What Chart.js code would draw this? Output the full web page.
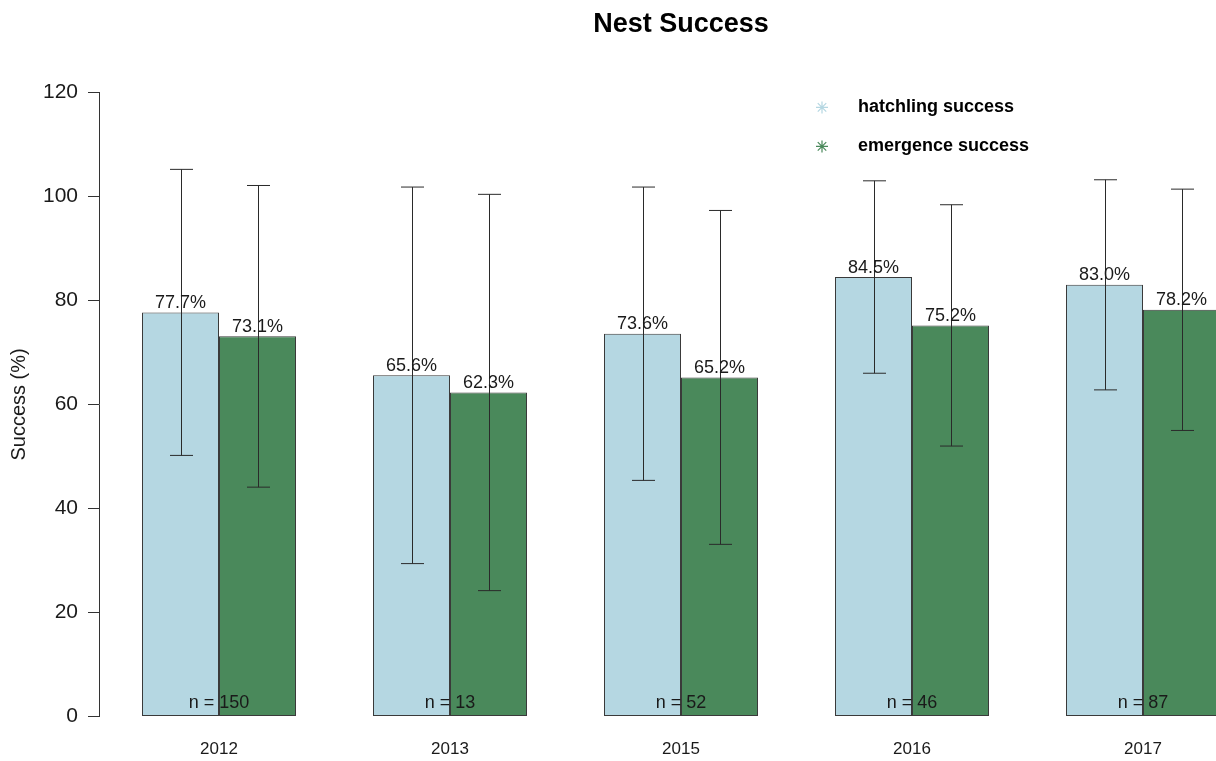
<!DOCTYPE html>
<html lang="en">
<head>
    <meta charset="UTF-8">
    <title>Nest Success</title>
    <script src="https://cdn.jsdelivr.net/npm/chart.js"></script>
    <style>
        body {
            margin: 0;
            overflow: hidden;
            background: #fff;
        }
        .wrap {
            width: 1300px;
            height: 761px;
            position: relative;
        }
    </style>
</head>
<body>
    <div class="wrap">
        <canvas id="nestChart"></canvas>
    </div>

    <script>
        const years = ['2012', '2013', '2015', '2016', '2017'];
        const hatchMean = [77.7, 65.6, 73.6, 84.5, 83.0];
        const hatchSd = [27.5, 36.2, 28.2, 18.5, 20.2];
        const emergeMean = [73.1, 62.3, 65.2, 75.2, 78.2];
        const emergeSd = [29.0, 38.1, 32.1, 23.2, 23.2];
        const nestCounts = [150, 13, 52, 46, 87];

        const lightBlue = '#b5d7e2';
        const green = '#4a895b';
        const ink = '#1a1a1a';

        Chart.defaults.font.family = "'Liberation Sans', Arial, Helvetica, sans-serif";
        Chart.defaults.color = ink;

        // mean +/- sd whiskers on every bar
        const errorBars = {
            id: 'errorBars',
            afterDatasetsDraw(chart) {
                const ctx = chart.ctx;
                const y = chart.scales.y;
                const sds = [hatchSd, emergeSd];
                ctx.save();
                ctx.strokeStyle = '#2a2a2a';
                ctx.lineWidth = 1;
                chart.data.datasets.forEach((ds, di) => {
                    chart.getDatasetMeta(di).data.forEach((bar, i) => {
                        const x = Math.round(bar.x) + 0.5;
                        const top = y.getPixelForValue(ds.data[i] + sds[di][i]);
                        const bot = y.getPixelForValue(ds.data[i] - sds[di][i]);
                        ctx.beginPath();
                        ctx.moveTo(x, top);
                        ctx.lineTo(x, bot);
                        ctx.moveTo(x - 11.5, top);
                        ctx.lineTo(x + 11.5, top);
                        ctx.moveTo(x - 11.5, bot);
                        ctx.lineTo(x + 11.5, bot);
                        ctx.stroke();
                    });
                });
                ctx.restore();
            }
        };

        // percentage above bars, sample size along the base
        const barLabels = {
            id: 'barLabels',
            afterDraw(chart) {
                const ctx = chart.ctx;
                const xs = chart.scales.x;
                const ys = chart.scales.y;
                ctx.save();
                ctx.fillStyle = ink;
                ctx.font = "18px 'Liberation Sans', Arial, sans-serif";
                ctx.textAlign = 'center';
                ctx.textBaseline = 'alphabetic';
                chart.data.datasets.forEach((ds, di) => {
                    chart.getDatasetMeta(di).data.forEach((bar, i) => {
                        ctx.fillText(ds.data[i].toFixed(1) + '%', bar.x, bar.y - 4.5);
                    });
                });
                nestCounts.forEach((n, i) => {
                    ctx.fillText('n = ' + n, xs.getPixelForValue(i), ys.getPixelForValue(0) - 8.5);
                });
                ctx.restore();
            }
        };

        // legend drawn inside the plot, asterisk markers like pch 8
        const starLegend = {
            id: 'starLegend',
            afterDraw(chart) {
                const ctx = chart.ctx;
                const area = chart.chartArea;
                ctx.save();
                ctx.font = "bold 18px 'Liberation Sans', Arial, sans-serif";
                ctx.textAlign = 'left';
                ctx.textBaseline = 'middle';
                chart.data.datasets.forEach((ds, di) => {
                    const ly = area.top + 15 + di * 39;
                    const lx = area.left + 718.5;
                    ctx.strokeStyle = ds.backgroundColor;
                    ctx.lineWidth = 1.2;
                    Chart.helpers.drawPoint(ctx, { pointStyle: 'star', radius: 6, rotation: 0, borderWidth: 1.2 }, lx, ly);
                    ctx.fillStyle = '#000';
                    ctx.fillText(ds.label, lx + 36, ly);
                });
                ctx.restore();
            }
        };

        // R puts the y axis a little left of the first bar group
        const shiftAxis = {
            id: 'shiftAxis',
            afterLayout(chart) {
                const y = chart.scales.y;
                y.left -= 4.5;
                y.right -= 4.5;
            }
        };

        new Chart(document.getElementById('nestChart'), {
            type: 'bar',
            data: {
                labels: years,
                datasets: [
                    {
                        label: 'hatchling success',
                        data: hatchMean,
                        backgroundColor: lightBlue,
                        borderColor: '#3a3a3a',
                        borderWidth: 1,
                        borderSkipped: false
                    },
                    {
                        label: 'emergence success',
                        data: emergeMean,
                        backgroundColor: green,
                        borderColor: '#3a3a3a',
                        borderWidth: 1,
                        borderSkipped: false
                    }
                ]
            },
            options: {
                responsive: true,
                maintainAspectRatio: false,
                animation: false,
                datasets: {
                    bar: { categoryPercentage: 2 / 3, barPercentage: 1 }
                },
                layout: { padding: { left: 0, right: 41.5, top: 0, bottom: 0 } },
                plugins: {
                    legend: { display: false },
                    tooltip: { enabled: false },
                    title: {
                        display: true,
                        text: 'Nest Success',
                        fullSize: false,
                        color: '#000',
                        font: { size: 27, weight: 'bold' },
                        padding: { top: 8, bottom: 52 }
                    }
                },
                scales: {
                    x: {
                        grid: { display: false, drawTicks: false },
                        border: { display: false },
                        ticks: { font: { size: 17 }, color: ink, padding: 23 },
                        afterFit(scale) { scale.height = 44.5; }
                    },
                    y: {
                        min: 0,
                        max: 120,
                        ticks: { stepSize: 20, font: { size: 21 }, color: ink, padding: 10 },
                        grid: { drawOnChartArea: false, drawTicks: true, tickLength: 11, color: '#333' },
                        border: { display: true, color: '#333', width: 1 },
                        title: {
                            display: true,
                            text: 'Success (%)',
                            font: { size: 20 },
                            color: ink,
                            padding: { top: 12, bottom: 0 }
                        },
                        afterFit(scale) { scale.width = 103.5; }
                    }
                }
            },
            plugins: [errorBars, barLabels, starLegend, shiftAxis]
        });
    </script>
</body>
</html>
